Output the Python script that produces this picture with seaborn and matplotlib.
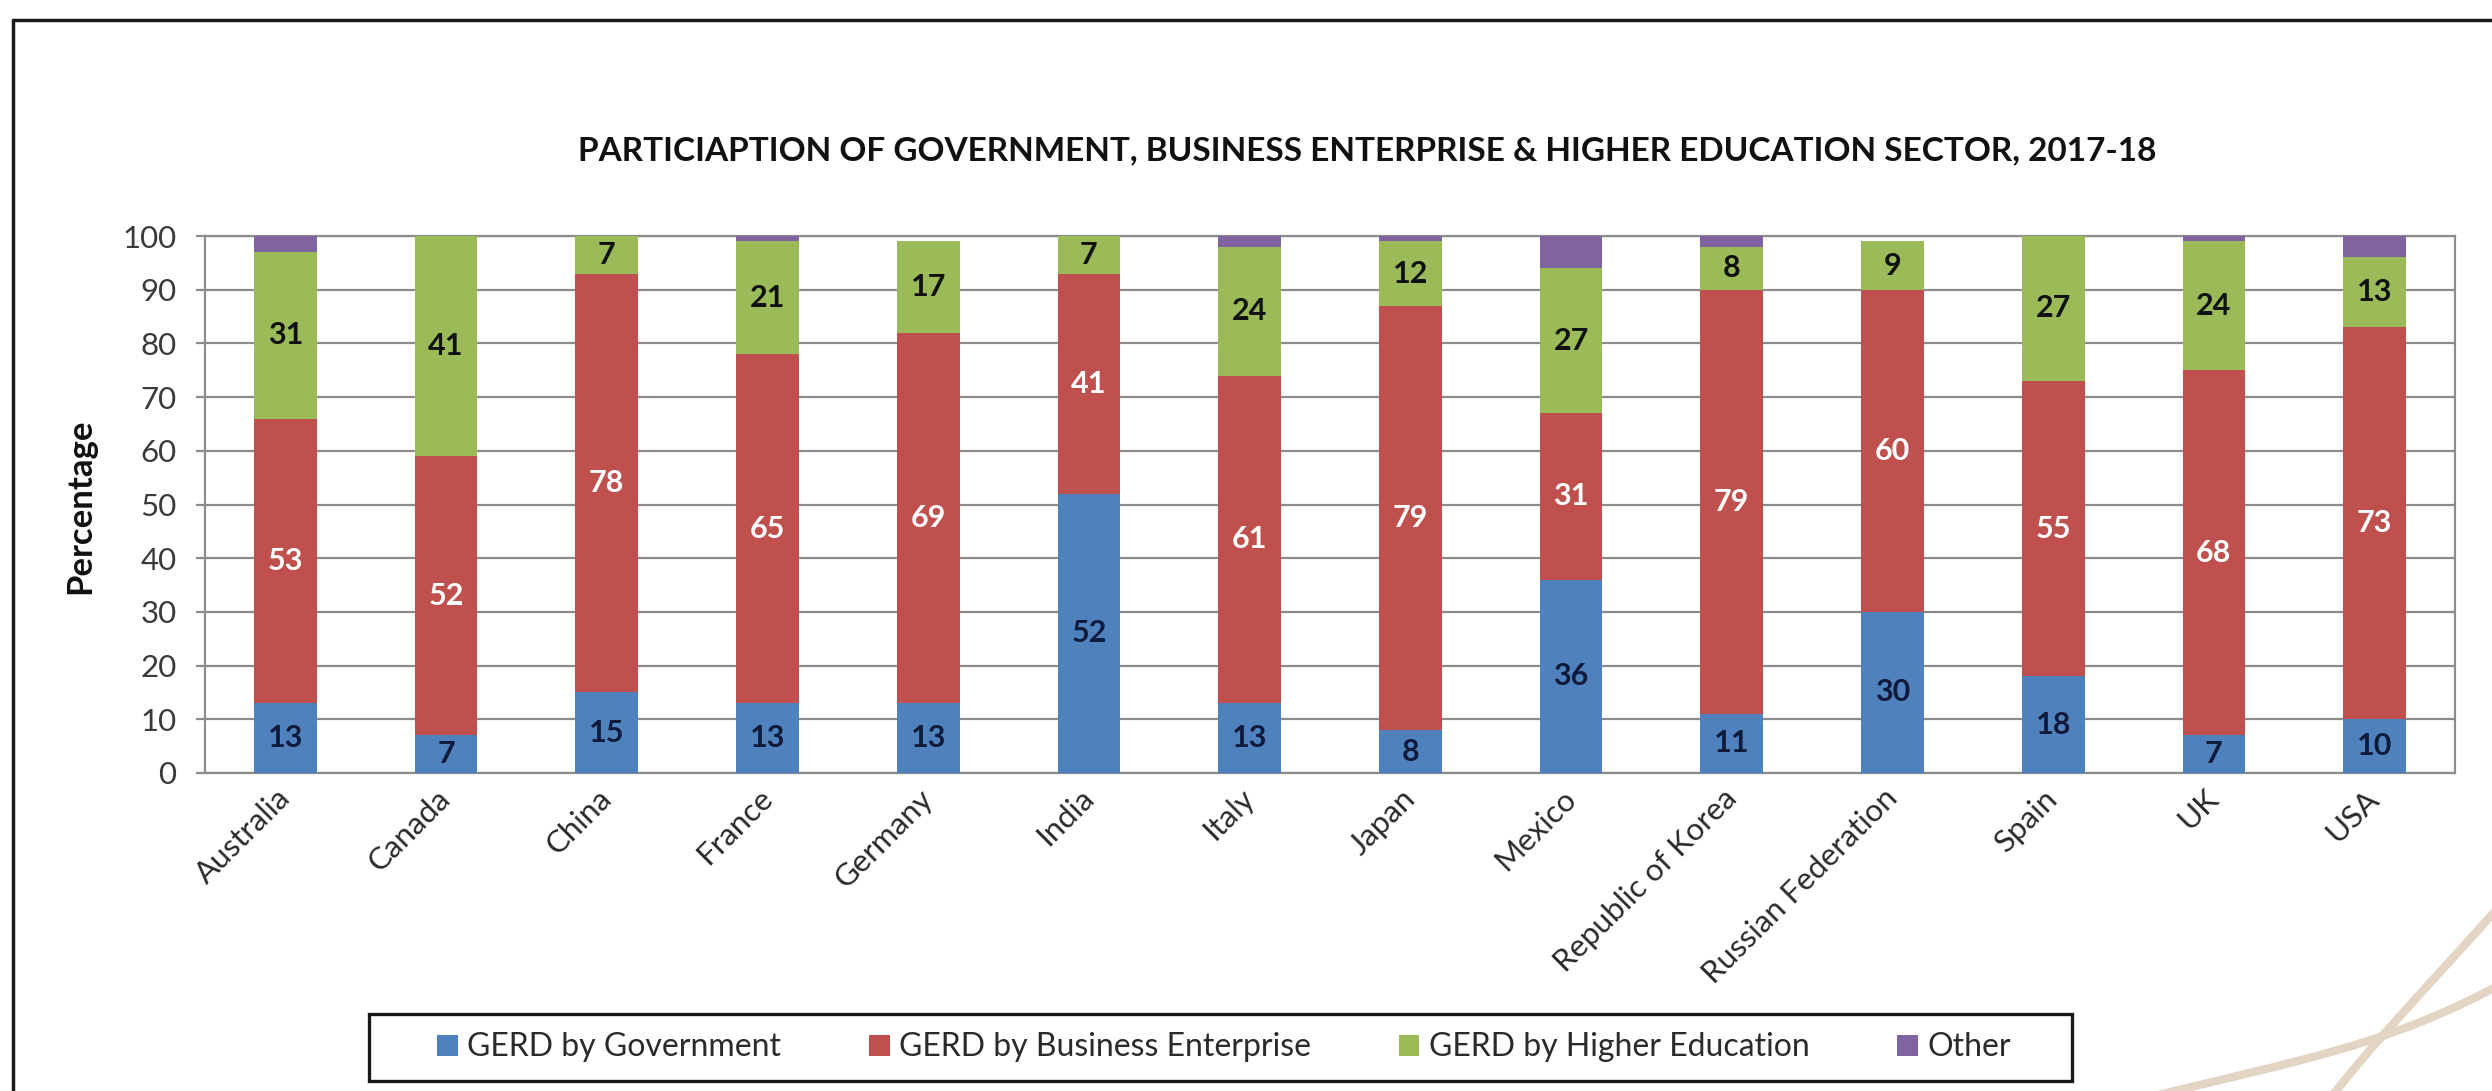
import matplotlib
matplotlib.use("Agg")
import numpy as np
import pandas as pd
import matplotlib.pyplot as plt
import seaborn as sns
from matplotlib.patches import Rectangle, PathPatch
from matplotlib.path import Path
from matplotlib.lines import Line2D

# ---- data -------------------------------------------------------------
countries = ["Australia", "Canada", "China", "France", "Germany", "India", "Italy",
             "Japan", "Mexico", "Republic of Korea", "Russian Federation", "Spain",
             "UK", "USA"]
government = [13, 7, 15, 13, 13, 52, 13, 8, 36, 11, 30, 18, 7, 10]
business = [53, 52, 78, 65, 69, 41, 61, 79, 31, 79, 60, 55, 68, 73]
higher_edu = [31, 41, 7, 21, 17, 7, 24, 12, 27, 8, 9, 27, 24, 13]
other = [3, 0, 0, 1, 0, 0, 2, 1, 6, 2, 0, 0, 1, 4]

series_names = ["GERD by Government", "GERD by Business Enterprise",
                "GERD by Higher Education", "Other"]
colors = ["#4F81BD", "#C0504D", "#9BBB59", "#8064A2"]
label_colors = ["#0f1b3d", "white", "#111111", None]
title = "PARTICIAPTION OF GOVERNMENT, BUSINESS ENTERPRISE & HIGHER EDUCATION SECTOR, 2017-18"

# ---- style ------------------------------------------------------------
sns.set_theme(style="white")
plt.rcParams["font.family"] = ["Lato", "DejaVu Sans"]

W, H = 2492, 1091
fig = plt.figure(figsize=(W / 100, H / 100), dpi=100)
fig.patch.set_facecolor("white")

def fx(px):
    return px / W

def fy(py):
    return 1 - py / H

ax = fig.add_axes([fx(205), fy(773), fx(2455) - fx(205), fy(236) - fy(773)])

# stacked bars drawn as cumulative layers, tallest first
df = pd.DataFrame({"Country": countries, "gov": government, "bus": business,
                   "he": higher_edu, "oth": other})
df["c1"] = df["gov"]
df["c2"] = df["c1"] + df["bus"]
df["c3"] = df["c2"] + df["he"]
df["c4"] = df["c3"] + df["oth"]

for col, color in zip(["c4", "c3", "c2", "c1"], colors[::-1]):
    sns.barplot(data=df, x="Country", y=col, color=color, saturation=1,
                width=0.39, linewidth=0, errorbar=None, ax=ax, zorder=3)

# segment labels
value_cols = ["gov", "bus", "he"]
for i, row in df.iterrows():
    bottom = 0
    for k, col in enumerate(value_cols):
        v = row[col]
        ax.text(i, bottom + v / 2, f"{v:g}", ha="center", va="center",
                fontsize=22, fontweight="bold", color=label_colors[k], zorder=5)
        bottom += v

# axes styling
ax.set_xlim(-0.5, len(countries) - 0.5)
ax.set_ylim(0, 100)
ax.set_yticks(np.arange(0, 101, 10))
ax.yaxis.grid(True, color="#8c8c8c", linewidth=1.6)
ax.xaxis.grid(False)
ax.set_axisbelow(True)
for s in ax.spines.values():
    s.set_visible(True)
    s.set_color("#8c8c8c")
    s.set_linewidth(1.6)
ax.set_xlabel("")
ax.set_ylabel("")
ax.tick_params(axis="y", left=True, length=6.5, width=1.6, color="#8c8c8c",
               pad=14, labelsize=22.5, labelcolor="#3a3a3a")
ax.tick_params(axis="x", bottom=True, length=0, pad=15, labelsize=22.5,
               labelcolor="#2a2a2a")
for lab in ax.get_xticklabels():
    lab.set_rotation(45)
    lab.set_ha("right")
    lab.set_va("center")
    lab.set_rotation_mode("anchor")

# title and axis label
fig.text(fx(1367), fy(151), title, ha="center", va="center", fontsize=24,
         fontweight="bold", color="#111111")
fig.text(fx(80), fy(506), "Percentage", ha="center", va="center", rotation=90,
         fontsize=25, fontweight="bold", color="#111111")

# legend inside a framed box
handles = [Rectangle((0, 0), 1, 1, facecolor=c, edgecolor="none") for c in colors]
fig.add_artist(Rectangle((fx(369), fy(1081)), fx(2072) - fx(369), fy(1014) - fy(1081),
                         transform=fig.transFigure, fill=False, edgecolor="#1a1a1a",
                         linewidth=2.4, zorder=1))
fig.legend(handles=handles, labels=series_names, loc="center",
           bbox_to_anchor=(fx(437), fy(1075), fx(2011) - fx(437), fy(1020) - fy(1075)),
           bbox_transform=fig.transFigure, mode="expand", ncol=4, frameon=False,
           borderpad=0, borderaxespad=0, handlelength=0.65, handleheight=0.65,
           handletextpad=0.3, fontsize=23, labelcolor="#2a2a2a")

# page border (top and left)
fig.add_artist(Line2D([fx(13), fx(13)], [0, fy(20)], transform=fig.transFigure,
                      color="#1a1a1a", linewidth=2.5))
fig.add_artist(Line2D([fx(13), 1], [fy(20), fy(20)], transform=fig.transFigure,
                      color="#1a1a1a", linewidth=2.5))

# decorative strokes in the lower right corner
def stroke(pts):
    verts = [(fx(x), fy(y)) for x, y in pts]
    codes = [Path.MOVETO] + [Path.CURVE4] * (len(verts) - 1)
    return PathPatch(Path(verts, codes), transform=fig.transFigure, fill=False,
                     edgecolor="#E3D4C3", linewidth=6, capstyle="round", zorder=0)

fig.add_artist(stroke([(2325, 1105), (2375, 1040), (2425, 990), (2505, 900)]))
fig.add_artist(stroke([(2150, 1097), (2300, 1060), (2390, 1045), (2505, 982)]))

fig.savefig("out.png", dpi=100, facecolor="white")
